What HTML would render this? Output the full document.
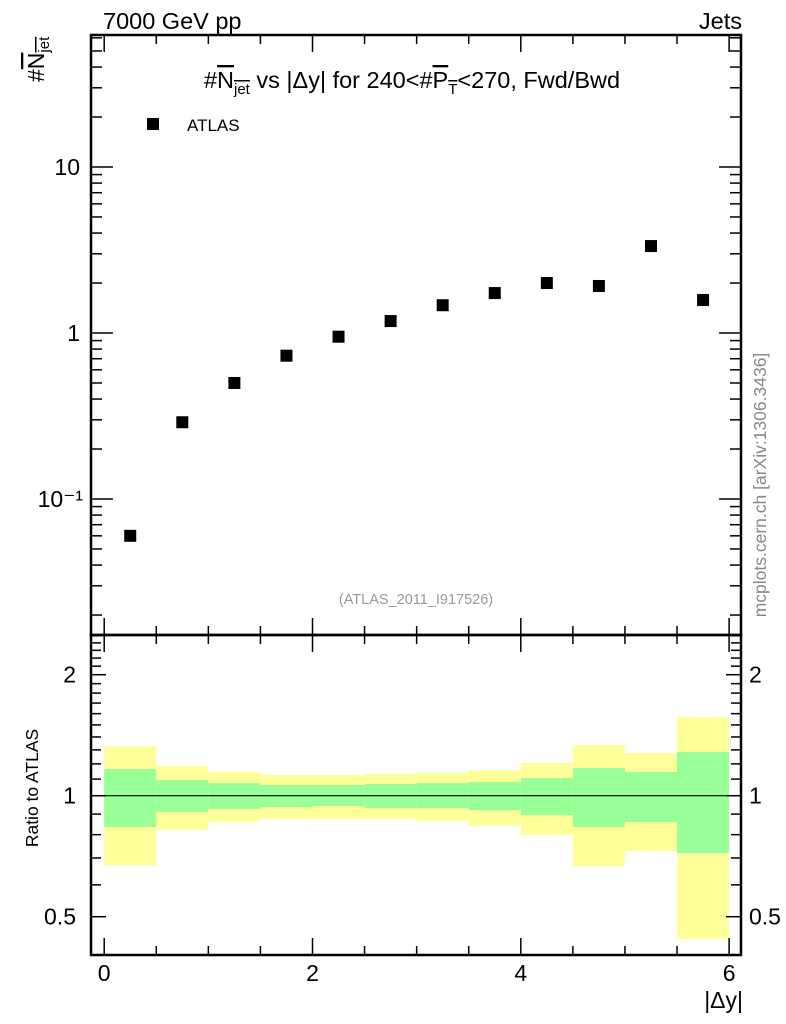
<!DOCTYPE html>
<html><head><meta charset="utf-8"><style>
html,body{margin:0;padding:0;background:#fff;}
svg{display:block;font-family:"Liberation Sans",Arial,sans-serif;}
.ol{text-decoration:overline;}
</style></head><body>
<svg id="c" width="786" height="1024" viewBox="0 0 786 1024" xmlns="http://www.w3.org/2000/svg">
<text x="103" y="29" font-size="23.5">7000 GeV pp</text>
<text x="742" y="29" font-size="23.5" text-anchor="end">Jets</text>
<g transform="translate(44,82) rotate(-90)">
<text x="0" y="0" font-size="23">#<tspan class="ol">N<tspan font-size="15" dy="5">jet</tspan></tspan></text>
</g>
<g>
<text x="412" y="88" font-size="23.5" text-anchor="middle">#<tspan class="ol">N<tspan font-size="15" dy="6">jet</tspan></tspan><tspan dy="-6"> vs |Δy| for 240&lt;#</tspan><tspan class="ol">P<tspan font-size="15" dy="6">T</tspan></tspan><tspan dy="-6">&lt;270, Fwd/Bwd</tspan></text>
</g>
<rect x="147" y="118" width="12" height="12" fill="#000"/>
<text x="187" y="131" font-size="17">ATLAS</text>
<text x="416" y="604" font-size="14.5" fill="#999" text-anchor="middle">(ATLAS_2011_I917526)</text>
<text transform="translate(766,485) rotate(-90)" font-size="17.5" fill="#888" text-anchor="middle">mcplots.cern.ch [arXiv:1306.3436]</text>
<text x="743" y="1008" font-size="23" text-anchor="end">|Δy|</text>
<text transform="translate(38,788) rotate(-90)" font-size="17.5" text-anchor="middle">Ratio to ATLAS</text>
<g id="g"></g>
</svg>
<script>
const binEdges=[0,0.5,1,1.5,2,2.5,3,3.5,4,4.5,5,5.5,6];
const xCenters=[0.25,0.75,1.25,1.75,2.25,2.75,3.25,3.75,4.25,4.75,5.25,5.75];
const nJet=[0.060,0.29,0.50,0.73,0.95,1.18,1.47,1.74,2.0,1.92,3.34,1.58];
const yellowHi=[1.329,1.185,1.145,1.126,1.126,1.133,1.139,1.158,1.206,1.337,1.277,1.569];
const yellowLo=[0.672,0.822,0.860,0.875,0.875,0.875,0.866,0.842,0.798,0.668,0.728,0.440];
const greenHi=[1.165,1.094,1.075,1.063,1.063,1.069,1.075,1.082,1.106,1.172,1.145,1.285];
const greenLo=[0.836,0.911,0.927,0.937,0.943,0.932,0.932,0.921,0.895,0.836,0.860,0.720];
const xTicks=[0,2,4,6];
const mainTicks=[[10,"10"],[1,"1"],[0.1,"10⁻¹"]];
const ratioTicks=[[2,"2"],[1,"1"],[0.5,"0.5"]];

const L=91,R=741,T=35,M=635,B=955;
const X=v=>104.2+v*104.15;
const Y=v=>333-166*Math.log10(v);
const RY=v=>795.7-121*Math.log2(v);
const g=document.getElementById('g');
const NS='http://www.w3.org/2000/svg';
function mk(t,a){const e=document.createElementNS(NS,t);for(const k in a)e.setAttribute(k,a[k]);g.appendChild(e);return e;}
function line(x1,y1,x2,y2,w){return mk('line',{x1,y1,x2,y2,stroke:'#000','stroke-width':w||1.5});}
for(let i=0;i<xCenters.length;i++){
 const x0=X(binEdges[i]),x1=X(binEdges[i+1]);
 let r=mk('rect',{x:x0,y:RY(yellowHi[i]),width:x1-x0,height:RY(yellowLo[i])-RY(yellowHi[i]),fill:'#ffff99'});
 
 
 r=mk('rect',{x:x0,y:RY(greenHi[i]),width:x1-x0,height:RY(greenLo[i])-RY(greenHi[i]),fill:'#99ff99'});
 
 
}
let ref=line(L,RY(1),R,RY(1),1.2);


for(let i=0;i<xCenters.length;i++){
 const p=mk('rect',{x:X(xCenters[i])-6,y:Y(nJet[i])-6,width:12,height:12,fill:'#000'});
 
 
}
for(const [t,b] of [[T,M],[M,B]]){
 const f=mk('rect',{x:L,y:t,width:R-L,height:b-t,fill:'none',stroke:'#000','stroke-width':2.5});
 
 
}
for(let v=0;v<=6.001;v+=0.5){
 const maj=Math.abs(v-Math.round(v/2)*2)<1e-6;const len=maj?17:9;const x=X(v);
 for(const [t,b] of [[T,M],[M,B]]){line(x,t,x,t+len);line(x,b,x,b-len);}
}
for(const v of xTicks){const t=mk('text',{x:X(v),y:981,'font-size':23,'text-anchor':'middle'});t.textContent=v;
 
 }
for(let d=-2;d<=1;d++){for(let k=1;k<10;k++){const v=k*Math.pow(10,d);const y=Y(v);if(y<T||y>M)continue;const len=k==1?22:11;line(L,y,L+len,y);line(R,y,R-len,y);}}
for(const [v,s] of mainTicks){const t=mk('text',{x:v==0.1?83:80,y:Y(v)+8,'font-size':23,'text-anchor':'end'});t.textContent=s;
 
 }
const rt=[0.5,0.6,0.7,0.8,0.9,1,1.1,1.2,1.3,1.4,1.5,1.6,1.7,1.8,1.9,2,2.1,2.2,2.3,2.4,2.5,0.4];
for(const v of rt){const y=RY(v);if(y<M||y>B)continue;const len=(v==0.5||v==1||v==2)?15:10;line(L,y,L+len,y);line(R,y,R-len,y);}
for(const [v,s] of ratioTicks){
 let t=mk('text',{x:76,y:RY(v)+8,'font-size':23,'text-anchor':'end'});t.textContent=s;
 
 
 t=mk('text',{x:749,y:RY(v)+8,'font-size':23});t.textContent=s;
 
 
}
</script>
</body></html>
